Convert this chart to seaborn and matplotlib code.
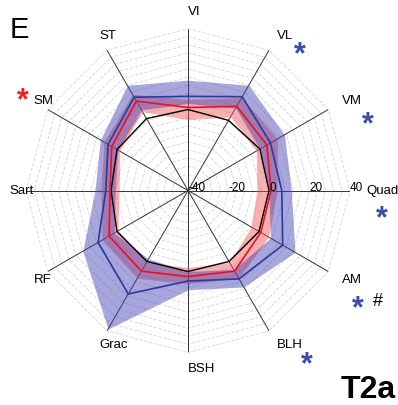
import numpy as np
import matplotlib
matplotlib.use("Agg")
import matplotlib.pyplot as plt
import seaborn as sns

# muscles, clockwise from the top
muscles = ["VI", "VL", "VM", "Quad", "AM", "BLH", "BSH", "Grac", "RF", "Sart", "SM", "ST"]

# reference (black), group 1 (red), group 2 (blue) - values in %
baseline = [0, 0, 1, 0, 0.5, 0.5, 0, 0.5, 0.5, -2, 0.5, 1]
red_mean = [1, 8, 5, 1, 1.5, 6, 2.5, 6, 5, -1.5, 3.5, 11]
red_lo = [-5, 2, -1, -6, -4, 1, -2, 1, 0, -6, -1, 5]
red_hi = [5, 13, 11, 4, 6, 10, 6, 10, 9, 3, 8, 15]
blue_mean = [6.5, 13.5, 7, 6.3, 14, 10.4, 4.7, 19, 11.3, 0.6, 5.6, 13.2]
blue_lo = [3, 7, 1, 0, 7, 5, 0, -1, 2, -4, 0, 6]
blue_hi = [14.5, 20, 15, 11, 21, 15, 9, 39, 20, 6, 10, 20]

rticks = [-40, -20, 0, 20, 40]
ring_levels = np.arange(-36, 41, 4)

W, H = 398, 405
sns.set_style("white")
plt.rcParams["font.family"] = ["Liberation Sans", "DejaVu Sans"]
plt.rcParams["text.color"] = "black"

fig = plt.figure(figsize=(W / 100, H / 100), dpi=100)
ax = fig.add_axes([0.0654, 0.1296, 0.814, 0.8], projection="polar")
ax.set_theta_offset(np.pi / 2)
ax.set_theta_direction(-1)
ax.set_ylim(-40, 40)
ax.grid(False)
ax.set_xticks([])
ax.set_yticks([])
ax.spines["polar"].set_visible(False)

n = len(muscles)
theta = np.linspace(0, 2 * np.pi, n, endpoint=False)
theta_c = np.append(theta, 2 * np.pi)


def close(v):
    return np.append(v, v[0])


# dashed web
for lvl in ring_levels:
    ax.plot(theta_c, np.full(n + 1, lvl), color="#d4d4d4", lw=0.6,
            ls=(0, (4, 2)), zorder=1)
# spokes
for t in theta:
    ax.plot([t, t], [-40, 40], color="#333333", lw=0.7, zorder=2)

# shaded bands
ax.fill_between(theta_c, close(red_lo), close(red_hi), color=(240/255, 80/255, 80/255),
                alpha=0.45, lw=0, zorder=3)
ax.fill_between(theta_c, close(blue_lo), close(blue_hi), color=(60/255, 60/255, 180/255),
                alpha=0.45, lw=0, zorder=4)

sns.lineplot(x=theta_c, y=close(baseline), sort=False, color="black", lw=1.0, ax=ax, zorder=5)
sns.lineplot(x=theta_c, y=close(red_mean), sort=False, color="#e8102a", lw=1.2, ax=ax, zorder=6)
sns.lineplot(x=theta_c, y=close(blue_mean), sort=False, color="#2a3a9e", lw=1.2, ax=ax, zorder=7)
ax.set_xlabel("")
ax.set_ylabel("")
ax.set_ylim(-40, 40)

# radial tick labels along Quad axis
for v in rticks:
    ax.text(np.pi / 2, v, str(v), ha="left", va="baseline", fontsize=8.5,
            color="black", zorder=8)

# muscle labels
for t, name in zip(theta, muscles):
    ax.text(t, 48, name, ha="left", va="center", fontsize=9.5, color="black", clip_on=False)


def ftext(px, py, s, **kw):
    fig.text(px / W, 1 - py / H, s, **kw)


blue_star = "#3a4bb0"
red_star = "#ee2020"
star_kw = dict(ha="center", va="baseline", fontsize=22, fontweight="bold")
for (sx, sy) in [(300, 46), (368, 116), (382, 210), (358, 300), (307, 356)]:
    ftext(sx, sy + 17.5, "*", color=blue_star, **star_kw)
ftext(23, 92 + 17.5, "*", color=red_star, **star_kw)
ftext(378, 300 + 6.3, "#", ha="center", va="baseline", fontsize=13, color="black")

ftext(10, 38, "E", ha="left", va="baseline", fontsize=21, color="black")
ftext(341, 398, "T2a", ha="left", va="baseline", fontsize=23, fontweight="bold", color="black")

fig.savefig("out.png", dpi=100)
